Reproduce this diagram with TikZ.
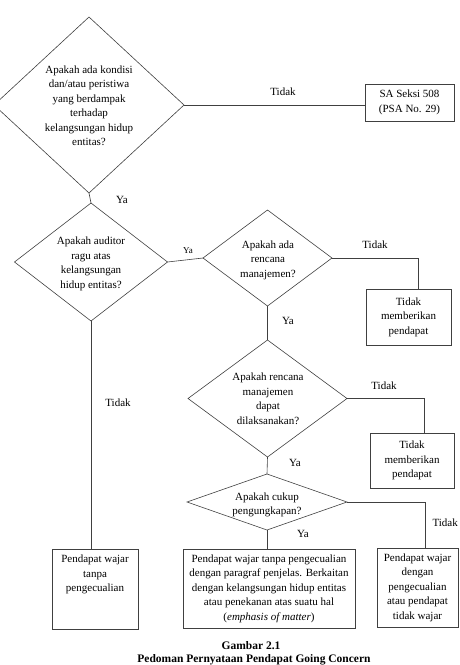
\documentclass[tikz,border=0pt]{standalone}
\usepackage{fontspec}
\setmainfont{Liberation Serif}
\usetikzlibrary{%
		shapes.geometric%
		,calc%
	}

\begin{document}
\begin{tikzpicture}[x=1pt,y=-1pt,
		garis/.style={draw=black!75, line width=0.6pt},
		belah/.style={garis, diamond, inner sep=0pt, outer sep=0pt},
		kotak/.style={garis, rectangle, inner sep=0pt, outer sep=0pt},
		isi/.style={align=center, font=\fontsize{11}{14.5}\selectfont, inner sep=0pt},
		ket/.style={font=\fontsize{11}{13}\selectfont, inner sep=0pt}]
			\useasboundingbox (0,0) rectangle (459,665);
			\clip (0,0) rectangle (459,665);
			
			% keputusan
			\node[belah, minimum width=190pt, minimum height=176pt] (q1) at (89,105) {};
			\node[isi] (q1t) at (89,106) {Apakah ada kondisi\\dan/atau peristiwa\\yang berdampak\\terhadap\\kelangsungan hidup\\entitas?};
			\node[belah, minimum width=153pt, minimum height=118pt] (q2) at (91,262) {};
			\node[isi] (q2t) at (91,264) {Apakah auditor\\ragu atas\\kelangsungan\\hidup entitas?};
			\node[belah, minimum width=129pt, minimum height=96pt] (q3) at (267.5,258) {};
			\node[isi] (q3t) at (268,260) {Apakah ada\\rencana\\manajemen?};
			\node[belah, minimum width=159pt, minimum height=117pt] (q4) at (267.5,398.5) {};
			\node[isi] (q4t) at (268,399) {Apakah rencana\\manajemen\\dapat\\dilaksanakan?};
			\node[belah, minimum width=160pt, minimum height=56pt] (q5) at (267,502) {};
			\node[isi] (q5t) at (267,505) {Apakah cukup\\pengungkapan?};
			
			% hasil
			\node[kotak, isi, minimum width=89pt, minimum height=37pt] (sa) at (409.5,102.5) {SA Seksi 508\\(PSA No. 29)};
			\node[kotak, isi, minimum width=85pt, minimum height=56pt] (tm1) at (408.5,317) {Tidak\\memberikan\\pendapat};
			\node[kotak, isi, minimum width=84pt, minimum height=55pt] (tm2) at (412,460.5) {Tidak\\memberikan\\pendapat};
			\node[kotak, minimum width=86pt, minimum height=80pt] (wt) at (95,589) {};
			\node[isi, anchor=north] (wtt) at ([yshift=-6pt]wt.north) {Pendapat wajar\\tanpa\\pengecualian};
			\node[kotak, isi, minimum width=172pt, minimum height=79pt] (mid) at (269,588.5) {Pendapat wajar tanpa pengecualian\\dengan paragraf penjelas. Berkaitan\\dengan kelangsungan hidup entitas\\atau penekanan atas suatu hal\\(\textit{emphasis of matter})};
			\node[kotak, isi, minimum width=81pt, minimum height=79pt] (rb) at (417.5,587.5) {Pendapat wajar\\dengan\\pengecualian\\atau pendapat\\tidak wajar};
			
			% garis
			\draw[garis] (q1.east) -- (q1.east -| sa.west);
			\draw[garis] (q1.south) -- (q2.north);
			\draw[garis] (q2.east) -- (q3.west);
			\draw[garis] (q3.east) -| ([xshift=9.5pt]tm1.north);
			\draw[garis] (q3.south) -- (q4.north);
			\draw[garis] (q4.east) -| ([xshift=12pt]tm2.north);
			\draw[garis] (q4.south) -- (q5.north);
			\draw[garis] (q5.east) -| ([xshift=7.5pt]rb.north);
			\draw[garis] (q5.south) -- (q5.south |- mid.north);
			\draw[garis] (q2.south) -- (q2.south |- wt.north);
			
			% keterangan
			\node[ket] (k1) at (283,92) {Tidak};
			\node[ket] (k2) at (122,200) {Ya};
			\node[ket, font=\fontsize{9}{10}\selectfont] (k3) at (188,251) {Ya};
			\node[ket] (k4) at (375,245) {Tidak};
			\node[ket] (k5) at (288,321) {Ya};
			\node[ket] (k6) at (384,386) {Tidak};
			\node[ket] (k7) at (295,463) {Ya};
			\node[ket, anchor=east] (k8) at (458,523) {Tidak};
			\node[ket] (k9) at (303,534) {Ya};
			\node[ket] (k10) at (118,403) {Tidak};
			
			\node[ket, font=\bfseries\fontsize{11.5}{14}\selectfont] (gb) at (251,646) {Gambar 2.1};
			\node[ket, font=\bfseries\fontsize{11.5}{14}\selectfont] (jd) at (254,659.5) {Pedoman Pernyataan Pendapat Going Concern};
		\end{tikzpicture}
\end{document}
